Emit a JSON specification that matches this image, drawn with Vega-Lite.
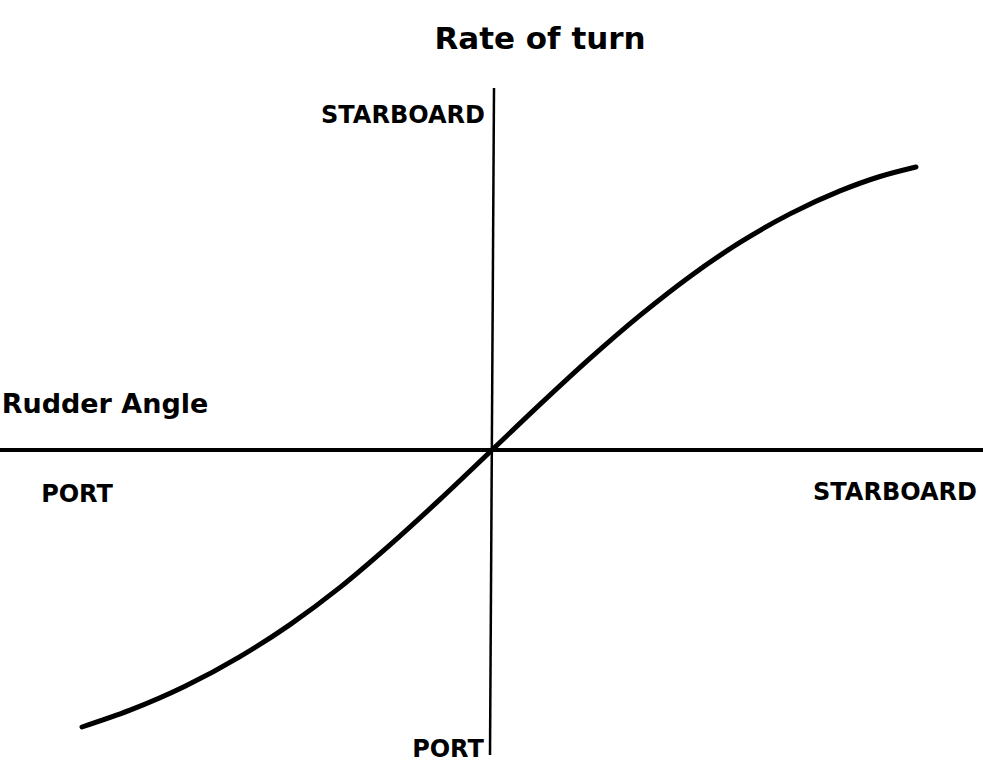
{
  "$schema": "https://vega.github.io/schema/vega-lite/v6.json",
  "width": 983,
  "height": 770,
  "padding": 0,
  "autosize": {"type": "none"},
  "background": "white",
  "config": {"view": {"stroke": null}},
  "datasets": {
    "curve": [
      {"rudder": -41.0, "turn": -27.7},
      {"rudder": -36.2, "turn": -26.02},
      {"rudder": -30.7, "turn": -23.63},
      {"rudder": -25.2, "turn": -20.66},
      {"rudder": -20.2, "turn": -17.46},
      {"rudder": -15.2, "turn": -13.74},
      {"rudder": -10.2, "turn": -9.49},
      {"rudder": -5.2, "turn": -4.94},
      {"rudder": 0, "turn": 0},
      {"rudder": 4.8, "turn": 4.56},
      {"rudder": 9.8, "turn": 9.16},
      {"rudder": 14.8, "turn": 13.46},
      {"rudder": 19.8, "turn": 17.36},
      {"rudder": 24.8, "turn": 20.76},
      {"rudder": 29.8, "turn": 23.61},
      {"rudder": 34.8, "turn": 25.91},
      {"rudder": 38.8, "turn": 27.35},
      {"rudder": 42.4, "turn": 28.3}
    ],
    "haxis": [{"x1": -49.2, "x2": 49.1, "y1": 0, "y2": 0}],
    "vaxis": [{"x1": 0.2, "x2": -0.2, "y1": 36.2, "y2": -30.5}],
    "labels": [
      {"text": "Rate of turn", "kind": "title", "rudder": 4.8, "turn": 41.0},
      {"text": "Rudder Angle", "kind": "axis", "rudder": -38.7, "turn": 4.5},
      {"text": "STARBOARD", "kind": "end", "rudder": -8.9, "turn": 33.4},
      {"text": "PORT", "kind": "end", "rudder": -41.5, "turn": -4.5},
      {"text": "STARBOARD", "kind": "end", "rudder": 40.3, "turn": -4.3},
      {"text": "PORT", "kind": "end", "rudder": -4.4, "turn": -30.0}
    ]
  },
  "layer": [
    {
      "data": {"name": "haxis"},
      "mark": {"type": "rule", "color": "black", "strokeWidth": 4},
      "encoding": {
        "x": {"field": "x1", "type": "quantitative", "scale": {"domain": [-49.2, 49.1], "nice": false, "zero": false}, "axis": null},
        "x2": {"field": "x2"},
        "y": {"field": "y1", "type": "quantitative", "scale": {"domain": [-32, 45], "nice": false, "zero": false}, "axis": null},
        "y2": {"field": "y2"}
      }
    },
    {
      "data": {"name": "vaxis"},
      "mark": {"type": "rule", "color": "black", "strokeWidth": 2.5},
      "encoding": {
        "x": {"field": "x1", "type": "quantitative", "axis": null},
        "x2": {"field": "x2"},
        "y": {"field": "y1", "type": "quantitative", "axis": null},
        "y2": {"field": "y2"}
      }
    },
    {
      "data": {"name": "curve"},
      "mark": {"type": "line", "color": "black", "strokeWidth": 5, "interpolate": "monotone", "strokeCap": "round"},
      "encoding": {
        "x": {"field": "rudder", "type": "quantitative", "axis": null},
        "y": {"field": "turn", "type": "quantitative", "axis": null}
      }
    },
    {
      "data": {"name": "labels"},
      "transform": [{"filter": "datum.kind == 'title'"}],
      "mark": {"type": "text", "font": "DejaVu Sans", "fontWeight": "bold", "fontSize": 31, "color": "black", "align": "center", "baseline": "middle"},
      "encoding": {
        "x": {"field": "rudder", "type": "quantitative", "axis": null},
        "y": {"field": "turn", "type": "quantitative", "axis": null},
        "text": {"field": "text"}
      }
    },
    {
      "data": {"name": "labels"},
      "transform": [{"filter": "datum.kind == 'axis'"}],
      "mark": {"type": "text", "font": "DejaVu Sans", "fontWeight": "bold", "fontSize": 27, "color": "black", "align": "center", "baseline": "middle"},
      "encoding": {
        "x": {"field": "rudder", "type": "quantitative", "axis": null},
        "y": {"field": "turn", "type": "quantitative", "axis": null},
        "text": {"field": "text"}
      }
    },
    {
      "data": {"name": "labels"},
      "transform": [{"filter": "datum.kind == 'end'"}],
      "mark": {"type": "text", "font": "DejaVu Sans", "fontWeight": "bold", "fontSize": 24, "color": "black", "align": "center", "baseline": "middle"},
      "encoding": {
        "x": {"field": "rudder", "type": "quantitative", "axis": null},
        "y": {"field": "turn", "type": "quantitative", "axis": null},
        "text": {"field": "text"}
      }
    }
  ]
}
